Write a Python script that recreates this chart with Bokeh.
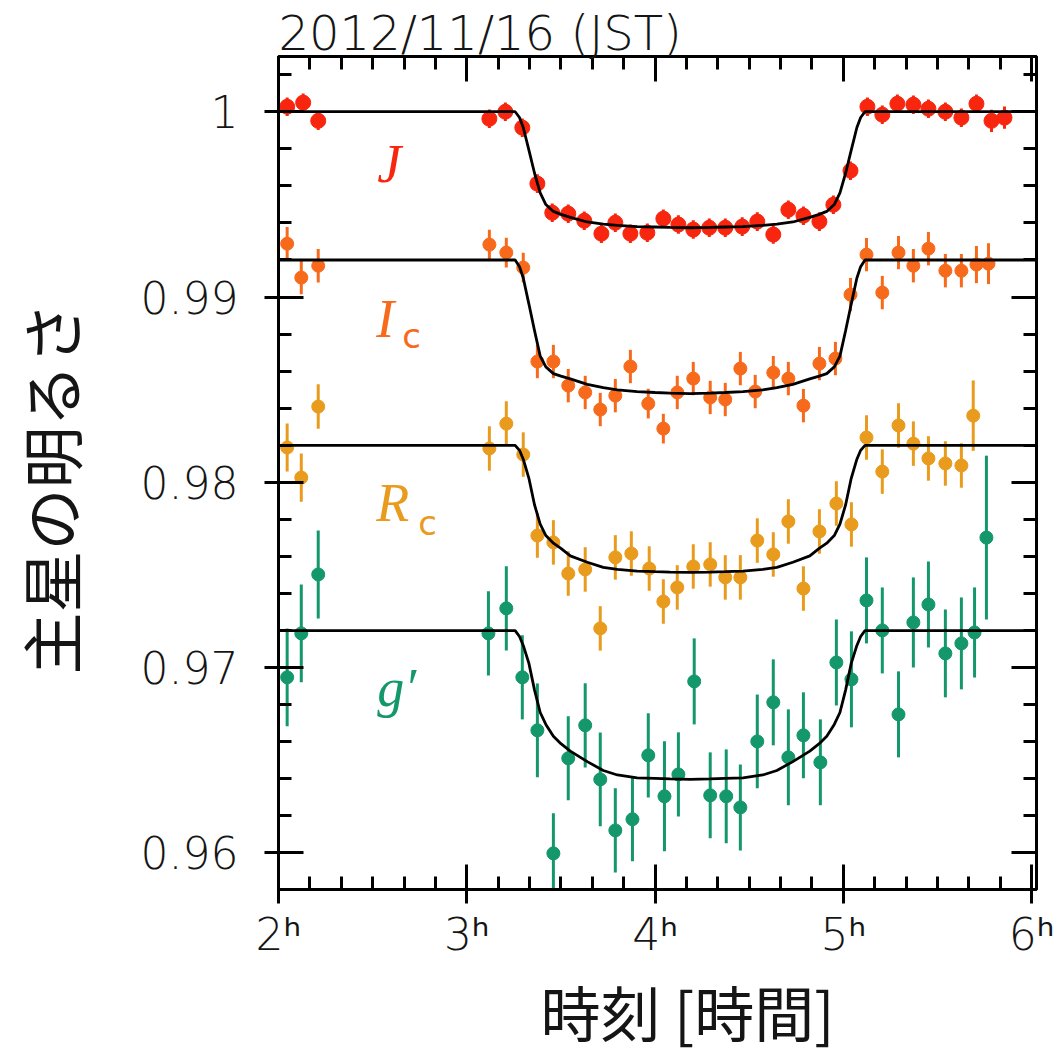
import numpy as np
from bokeh.plotting import figure
from bokeh.models import (Range1d, LinearAxis, FixedTicker, CustomJSTickFormatter,
                          Label, Title, ColumnDataSource)
from bokeh.embed import file_html
from bokeh.resources import INLINE

# ---- photometry (time in hours JST, relative flux, 1-sigma error) ----
j_time = [2.046, 2.131, 2.211, 3.120, 3.205, 3.295, 3.375, 3.454, 3.539, 3.624,
          3.715, 3.789, 3.869, 3.959, 4.044, 4.124, 4.203, 4.288, 4.373, 4.463,
          4.543, 4.628, 4.708, 4.788, 4.873, 4.947, 5.038, 5.128, 5.207, 5.287,
          5.372, 5.452, 5.542, 5.627, 5.707, 5.787, 5.856]
j_flux = [1.00027, 1.00049, 0.99951, 0.99962, 1.00000, 0.99914, 0.99612, 0.99455, 0.99450, 0.99412,
          0.99342, 0.99401, 0.99342, 0.99347, 0.99423, 0.99391, 0.99364, 0.99374, 0.99374, 0.99380,
          0.99407, 0.99337, 0.99471, 0.99439, 0.99407, 0.99498, 0.99682, 1.00027, 0.99984, 1.00043,
          1.00038, 1.00016, 1.00000, 0.99968, 1.00043, 0.99951, 0.99968]
j_err = [0.0005, 0.0005, 0.0005, 0.0005, 0.0005, 0.0005, 0.0005, 0.0005, 0.0005, 0.0005,
         0.0005, 0.0005, 0.0005, 0.0005, 0.0005, 0.0005, 0.0005, 0.0005, 0.0005, 0.0005,
         0.0005, 0.0005, 0.0005, 0.0005, 0.0005, 0.0005, 0.0005, 0.0005, 0.0005, 0.0005,
         0.0005, 0.0005, 0.0005, 0.0005, 0.0005, 0.0006, 0.0006]

ic_time = [2.046, 2.121, 2.211, 3.120, 3.210, 3.300, 3.375, 3.460, 3.539, 3.629,
           3.709, 3.789, 3.869, 3.964, 4.044, 4.118, 4.203, 4.293, 4.373, 4.453,
           4.532, 4.628, 4.708, 4.788, 4.873, 4.958, 5.038, 5.123, 5.207, 5.293,
           5.372, 5.452, 5.542, 5.627, 5.707, 5.771]
ic_flux = [0.99288, 0.99105, 0.99169, 0.99283, 0.99240, 0.99159, 0.98652, 0.98652, 0.98522, 0.98485,
           0.98393, 0.98468, 0.98625, 0.98425, 0.98290, 0.98485, 0.98560, 0.98458, 0.98447, 0.98614,
           0.98490, 0.98592, 0.98560, 0.98414, 0.98641, 0.98668, 0.99013, 0.99229, 0.99024, 0.99240,
           0.99169, 0.99261, 0.99142, 0.99142, 0.99175, 0.99180]
ic_err = [0.0009, 0.0009, 0.0009, 0.0008, 0.0008, 0.0008, 0.0009, 0.0009, 0.0009, 0.0009,
          0.0009, 0.0009, 0.0009, 0.0008, 0.0008, 0.0009, 0.0009, 0.0009, 0.0009, 0.0009,
          0.0009, 0.0009, 0.0009, 0.0009, 0.0009, 0.0009, 0.0009, 0.0009, 0.0009, 0.0009,
          0.0009, 0.0009, 0.0009, 0.0009, 0.0010, 0.0011]

rc_time = [2.046, 2.121, 2.211, 3.120, 3.210, 3.300, 3.375, 3.460, 3.539, 3.629,
           3.709, 3.789, 3.874, 3.969, 4.044, 4.118, 4.203, 4.293, 4.373, 4.453,
           4.543, 4.628, 4.708, 4.788, 4.873, 4.963, 5.043, 5.123, 5.207, 5.293,
           5.372, 5.452, 5.542, 5.627, 5.690]
rc_flux = [0.98188, 0.98026, 0.98409, 0.98183, 0.98317, 0.98150, 0.97713, 0.97676, 0.97508, 0.97530,
           0.97212, 0.97595, 0.97616, 0.97535, 0.97357, 0.97433, 0.97546, 0.97557, 0.97487, 0.97487,
           0.97686, 0.97611, 0.97789, 0.97427, 0.97735, 0.97886, 0.97773, 0.98242, 0.98058, 0.98307,
           0.98209, 0.98129, 0.98102, 0.98091, 0.98360]
rc_err = [0.0013, 0.0013, 0.0012, 0.0012, 0.0012, 0.0012, 0.0012, 0.0012, 0.0012, 0.0012,
          0.0012, 0.0012, 0.0012, 0.0012, 0.0012, 0.0012, 0.0012, 0.0012, 0.0012, 0.0012,
          0.0012, 0.0012, 0.0012, 0.0012, 0.0012, 0.0012, 0.0012, 0.0012, 0.0012, 0.0012,
          0.0012, 0.0012, 0.0012, 0.0012, 0.0019]

g_time = [2.046, 2.121, 2.211, 3.115, 3.210, 3.295, 3.375, 3.460, 3.539, 3.629,
          3.709, 3.789, 3.880, 3.964, 4.050, 4.124, 4.208, 4.293, 4.378, 4.453,
          4.543, 4.628, 4.708, 4.788, 4.878, 4.963, 5.043, 5.123, 5.207, 5.293,
          5.372, 5.452, 5.542, 5.627, 5.697, 5.760]
g_flux = [0.96948, 0.97185, 0.97503, 0.97185, 0.97320, 0.96948, 0.96662, 0.95998, 0.96511, 0.96689,
          0.96397, 0.96122, 0.96182, 0.96527, 0.96306, 0.96424, 0.96926, 0.96311, 0.96306, 0.96246,
          0.96602, 0.96813, 0.96516, 0.96635, 0.96489, 0.97028, 0.96937, 0.97363, 0.97201, 0.96748,
          0.97244, 0.97341, 0.97077, 0.97131, 0.97190, 0.97702]
g_err = [0.00264, 0.00264, 0.00237, 0.00227, 0.00227, 0.00227, 0.00253, 0.00216, 0.00227, 0.00227,
         0.00253, 0.00227, 0.00227, 0.00227, 0.00297, 0.00227, 0.00232, 0.00232, 0.00253, 0.00232,
         0.00253, 0.00232, 0.00259, 0.00232, 0.00232, 0.00232, 0.00259, 0.00232, 0.00232, 0.00232,
         0.00243, 0.00232, 0.00237, 0.00248, 0.00243, 0.00442]

# ---- fitted transit model, sampled at the knots below ----
model_time = [2.0, 3.257, 3.28, 3.30, 3.33, 3.36, 3.39, 3.42, 3.46, 3.50,
              3.55, 3.64, 3.725, 3.80, 3.905, 4.0, 4.08, 4.186, 4.292, 4.372,
              4.467, 4.572, 4.647, 4.732, 4.822, 4.872, 4.912, 4.952, 4.982, 5.012,
              5.042, 5.072, 5.092, 5.115, 6.03]
j_model = [1.0, 1.0, 0.99969, 0.99915, 0.99793, 0.99668, 0.99562, 0.99499, 0.99462, 0.99446,
           0.99430, 0.99405, 0.99393, 0.99387, 0.99380, 0.99378, 0.99376, 0.99374, 0.99376, 0.99378,
           0.99380, 0.99387, 0.99393, 0.99405, 0.99430, 0.99446, 0.99462, 0.99499, 0.99562, 0.99668,
           0.99793, 0.99915, 0.99969, 1.0, 1.0]
ic_model = [0.992, 0.992, 0.99164, 0.99103, 0.98962, 0.98818, 0.98681, 0.98623, 0.98587, 0.98573,
            0.98558, 0.98529, 0.98511, 0.98499, 0.98490, 0.98485, 0.98482, 0.98479, 0.98482, 0.98485,
            0.98490, 0.98499, 0.98511, 0.98529, 0.98558, 0.98573, 0.98587, 0.98623, 0.98681, 0.98818,
            0.98962, 0.99103, 0.99164, 0.992, 0.992]
rc_model = [0.982, 0.982, 0.98173, 0.98125, 0.98022, 0.97878, 0.97775, 0.97713, 0.97672, 0.97644,
            0.97603, 0.97569, 0.97541, 0.97531, 0.97521, 0.97518, 0.97516, 0.97514, 0.97516, 0.97518,
            0.97521, 0.97531, 0.97541, 0.97569, 0.97603, 0.97644, 0.97672, 0.97713, 0.97775, 0.97878,
            0.98022, 0.98125, 0.98173, 0.982, 0.982]
g_model = [0.972, 0.972, 0.97168, 0.97120, 0.97023, 0.96879, 0.96758, 0.96694, 0.96630, 0.96590,
           0.96550, 0.96493, 0.96445, 0.96421, 0.96405, 0.96403, 0.96400, 0.96397, 0.96400, 0.96403,
           0.96405, 0.96421, 0.96445, 0.96493, 0.96550, 0.96590, 0.96630, 0.96694, 0.96758, 0.96879,
           0.97023, 0.97120, 0.97168, 0.972, 0.972]

y_major = [0.96, 0.97, 0.98, 0.99, 1.0]
x_major = [2, 3, 4, 5, 6]

bands = [
    ("J", j_time, j_flux, j_err, j_model, "#f8260e", 15),
    ("Ic", ic_time, ic_flux, ic_err, ic_model, "#f76a1c", 13),
    ("Rc", rc_time, rc_flux, rc_err, rc_model, "#e99b1d", 13),
    ("g", g_time, g_flux, g_err, g_model, "#14976b", 13),
]

SANS = "DejaVu Sans"
TICKFONT = "DejaVu Sans Light, DejaVu Sans"
JP = "Noto Sans CJK JP"
SERIF = "Liberation Serif"
INK = "#151515"

p = figure(width=1058, height=1057, output_backend="svg", toolbar_location=None,
           x_range=Range1d(2.0, 6.026), y_range=Range1d(0.95803, 1.00298),
           x_axis_location=None, y_axis_location=None,
           min_border_left=278, min_border_right=22, min_border_top=56, min_border_bottom=168)
p.grid.visible = False
p.outline_line_color = "black"
p.outline_line_width = 3
p.background_fill_color = "white"
p.border_fill_color = "white"

y_ticker = FixedTicker(ticks=y_major,
                       minor_ticks=[round(0.960 + 0.002 * k, 3) for k in range(1, 22)])
x_ticker = FixedTicker(ticks=x_major,
                       minor_ticks=[2 + k / 6 for k in range(0, 25)])

blank = CustomJSTickFormatter(code="return '';")
yfmt = CustomJSTickFormatter(code="return Math.abs(tick - 1) < 1e-9 ? '1' : tick.toFixed(2);")
xfmt = CustomJSTickFormatter(code="return tick.toFixed(0) + '\u02b0';")


def make_axis(ticker, fmt, out, labelled):
    ax = LinearAxis(ticker=ticker, formatter=fmt,
                    major_tick_in=25, major_tick_out=out,
                    minor_tick_in=13, minor_tick_out=0,
                    axis_line_width=3, major_tick_line_width=3, minor_tick_line_width=3,
                    axis_line_color="black", major_tick_line_color="black",
                    minor_tick_line_color="black")
    if labelled:
        ax.major_label_text_font = TICKFONT
        ax.major_label_text_font_size = "44px"
        ax.major_label_text_color = INK
        ax.axis_label_text_font = JP
        ax.axis_label_text_font_style = "normal"
        ax.axis_label_text_color = INK
    else:
        ax.major_label_standoff = 0
        ax.major_label_text_font_size = "1px"
    return ax


left = make_axis(y_ticker, yfmt, 14, True)
left.major_label_standoff = 26
left.axis_label = "主星の明るさ\u2002"
left.axis_label_text_font_size = "62px"
left.axis_label_standoff = 43

bottom = make_axis(x_ticker, xfmt, 14, True)
bottom.major_label_standoff = 5
bottom.axis_label = "\u2003時刻 [時間]"
bottom.axis_label_text_font_size = "60px"
bottom.axis_label_standoff = 4

right = make_axis(y_ticker, blank, 0, False)
top = make_axis(x_ticker, blank, 0, False)
p.add_layout(left, "left")
p.add_layout(bottom, "below")
p.add_layout(right, "right")
p.add_layout(top, "above")

p.add_layout(Title(text="2012/11/16 (JST)", align="left", text_font=TICKFONT,
                   text_font_size="48px", text_font_style="normal", text_color=INK,
                   standoff=-8, offset=0), "above")

for name, t, f, e, m, color, size in bands:
    t = np.asarray(t)
    f = np.asarray(f)
    e = np.asarray(e)
    src = ColumnDataSource(dict(t=t, f=f, lo=f - e, hi=f + e))
    p.segment(x0="t", y0="lo", x1="t", y1="hi", source=src, line_color=color, line_width=3)
    p.scatter(x="t", y="f", source=src, size=size, marker="circle",
              fill_color=color, line_color=color)

for name, t, f, e, m, color, size in bands:
    p.line(model_time, m, line_color="black", line_width=2.8)


# band names
def band_label(x, y, txt, color, font, size, style="italic"):
    p.add_layout(Label(x=x, y=y, text=txt, text_color=color, text_font=font,
                       text_font_size=size, text_font_style=style,
                       text_baseline="alphabetic", text_align="left"))


band_label(2.524, 0.99720, "J", "#f8260e", SERIF, "54px")
band_label(2.519, 0.98884, "I", "#f76a1c", SERIF, "54px")
band_label(2.657, 0.98792, "c", "#f76a1c", SANS, "34px", "normal")
band_label(2.519, 0.97891, "R", "#e99b1d", SERIF, "54px")
band_label(2.742, 0.97783, "c", "#e99b1d", SANS, "34px", "normal")
band_label(2.524, 0.96888, "g\u2032", "#14976b", SERIF, "54px")

open("out.html", "w").write(file_html(p, INLINE))
